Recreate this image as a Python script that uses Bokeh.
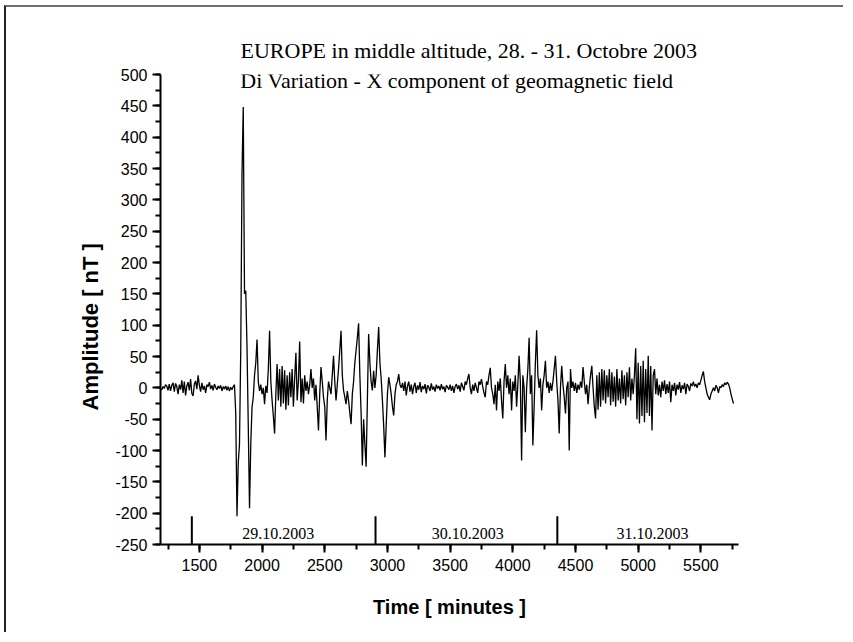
from bokeh.plotting import figure
from bokeh.models import Range1d, SingleIntervalTicker, Label, Title, PrintfTickFormatter
from bokeh.embed import file_html
from bokeh.resources import INLINE

# ---- data (minutes from 28.10.2003 00:00, sampled every 10 min) ----
t_start = 1190
t_step = 10
amplitude = [
    -2, -3, 2, -1, 5, 3, -4, 6, -5, 4,            # 1190
    8, -6, 7, 2, -10, 5, -3, 12, -8, 10,          # 1290
    -12, 3, 9, -4, 14, -9, -13, 6, 11, -2,        # 1390
    20, 4, -6, 8, -3, 3, -8, 5, 2, 9,             # 1490
    -2, 4, -4, 6, 1, -3, 3, -1, 4, -5,            # 1590
    2, -2, 3, -4, 2, -5, 1, -3, 2, 5,             # 1690
    -40, -205, -120, -90, 60, 340, 448, 150, 155, 65,   # 1790
    -60, -192, -90, -31, -15, 20, 40, 77, 10, -5,  # 1890
    5, -10, 0, -26, 3, -8, 30, 91, 10, -20,        # 1990
    -45, -73, -10, 38, -20, 30, -30, 35, -25, 28,  # 2090
    -35, 20, -28, 25, -15, 30, -30, 15, 56, -20,   # 2190
    10, 74, -23, 15, -25, 20, -5, 10, -10, 5,      # 2290
    30, 0, 15, -20, 5, -30, -68, -10, 33, 10,      # 2390
    -15, -30, -84, -20, 10, 0, -10, 20, 51, 10,    # 2490
    -20, 5, 30, 60, 91, 20, -4, -15, -26, -5,      # 2590
    -20, -40, -58, -10, 10, 40, 60, 80, 103, 20,   # 2690
    -40, -124, -50, -90, -126, -20, 86, 40, 10, -4,  # 2790
    27, 0, 20, 60, 97, 40, 15, -20, -60, -111,     # 2890
    -60, -10, 17, 5, -10, -30, -44, -10, 5, 10,    # 2990
    22, 5, 0, 8, -5, 10, -12, 3, 10, -6,           # 3090
    5, -10, 2, 8, -8, 4, -3, 9, -7, 3,             # 3190
    -2, 6, -9, 4, 1, -5, 7, -3, 2, -6,             # 3290
    5, -1, 3, -4, 6, -2, 2, -7, 4, 1,              # 3390
    -3, 5, -5, 3, -8, 2, 6, -2, 4, -6,             # 3490
    8, 2, -4, 10, 5, 15, 22, 0, -10, 5,            # 3590
    -5, 8, 0, -8, 10, 5, 14, 2, -8, -15,           # 3690
    10, 5, 20, 32, 0, -10, -26, 5, -36, 10,        # 3790
    -5, 15, -20, -49, 10, 38, 0, 20, -10, 15,      # 3890
    -36, 10, -5, 20, -30, 5, 51, 10, -116, 20,     # 3990
    0, -71, 0, 30, 80, -10, 20, -92, -30, 40,      # 4090
    92, 20, 0, 15, -36, 5, 20, 43, 0, 10,          # 4190
    -8, 8, -5, 10, 30, 51, 10, -20, -73, 0,        # 4290
    35, 5, -15, -41, 0, 10, -100, 30, 0, 10,       # 4390
    -5, 8, -8, 5, -3, 10, 0, 33, 10, -10,          # 4490
    5, -26, 0, 20, 35, 0, -30, -49, 20, -35,       # 4590
    25, -30, 30, -20, 28, -25, 20, -15, 30, -28,   # 4690
    25, -22, 18, -30, 30, -20, 15, -25, 28, -18,   # 4790
    20, -28, 25, -15, 33, -20, 15, -10, 20, 63,    # 4890
    -50, 40, -57, 35, -45, 43, -55, 30, -40, 51,   # 4990
    -45, 35, -68, 20, 30, -10, 15, -12, 5, -15,    # 5090
    10, -5, 12, -10, 6, -8, 10, -23, 5, -5,        # 5190
    8, -12, 5, -3, 9, -8, 4, -2, 8, -10,           # 5290
    6, 2, -5, 7, 3, 10, 2, 6, 0, 8,                # 5390
    5, 12, 20, 26, 10, 0, -10, -15, -19, -10,      # 5490
    -5, 0, -5, 4, 0, -8, 2, 0, 5, 2,               # 5590
    8, 5, 9, 6, 0, -10, -18, -25,                  # 5690
]
minutes = [t_start + t_step * i for i in range(len(amplitude))]

day_boundaries = [1440, 2905, 4355]
day_labels = ["29.10.2003", "30.10.2003", "31.10.2003"]
day_label_x = [2130, 3640, 5115]

title_lines = ["EUROPE in middle altitude, 28. - 31. Octobre 2003",
               "Di Variation - X component of geomagnetic field"]

p = figure(width=839, height=627, output_backend="svg", toolbar_location=None,
           x_range=Range1d(1190, 5800), y_range=Range1d(-250, 500),
           min_border_left=154, min_border_right=107,
           min_border_top=67, min_border_bottom=90)
p.styles = {"margin-left": "4px", "margin-top": "5px",
            "border-top": "2px solid #6f6f6f", "border-left": "2px solid #222222"}
p.outline_line_color = None
p.xgrid.visible = False
p.ygrid.visible = False
p.background_fill_color = "white"
p.border_fill_color = "white"

p.line(minutes, amplitude, line_color="black", line_width=1.3)

# day boundary markers
p.segment(x0=day_boundaries, y0=[-250] * 3, x1=day_boundaries, y1=[-205] * 3,
          line_color="black", line_width=2)
for lx, lt in zip(day_label_x, day_labels):
    p.add_layout(Label(x=lx, y=-233, text=lt, text_align="center",
                       text_baseline="middle", text_font="Liberation Serif",
                       text_font_size="16px", text_color="black"))

# title line 1 (above the frame), line 2 inside the frame
p.add_layout(Title(text=title_lines[0], align="left", offset=80, standoff=24,
                   text_font="Liberation Serif", text_font_size="22px",
                   text_font_style="normal", text_color="black"), "above")
p.add_layout(Label(x=1827, y=491, text=title_lines[1], text_font="Liberation Serif",
                   text_font_size="22px", text_baseline="alphabetic", text_color="black"))

# y-axis title as a left-side Title so it can be shifted along the axis
p.add_layout(Title(text="Amplitude [ nT ]", align="left", offset=134, standoff=20,
                   text_font="Liberation Sans", text_font_size="22px",
                   text_font_style="bold", text_color="black"), "left")

for ax in (p.xaxis[0], p.yaxis[0]):
    ax.axis_line_width = 2
    ax.axis_line_color = "black"
    ax.major_tick_line_width = 2
    ax.minor_tick_line_width = 2
    ax.major_tick_out = 8
    ax.major_tick_in = 0
    ax.minor_tick_out = 5
    ax.minor_tick_in = 0
    ax.major_label_text_font = "Liberation Sans"
    ax.major_label_text_font_size = "16px"
    ax.major_label_text_color = "black"
    ax.axis_label_text_font = "Liberation Sans"
    ax.axis_label_text_font_size = "20px"
    ax.axis_label_text_font_style = "bold"
    ax.axis_label_text_color = "black"
    ax.formatter = PrintfTickFormatter(format="%d")

p.xaxis.ticker = SingleIntervalTicker(interval=500, num_minor_ticks=2)
p.yaxis.ticker = SingleIntervalTicker(interval=50, num_minor_ticks=2)
p.xaxis.axis_label = "Time [ minutes ]"
p.xaxis.major_label_standoff = 6
p.yaxis.major_label_standoff = 5
p.xaxis.axis_label_standoff = 22

open("out.html", "w").write(file_html(p, INLINE))
